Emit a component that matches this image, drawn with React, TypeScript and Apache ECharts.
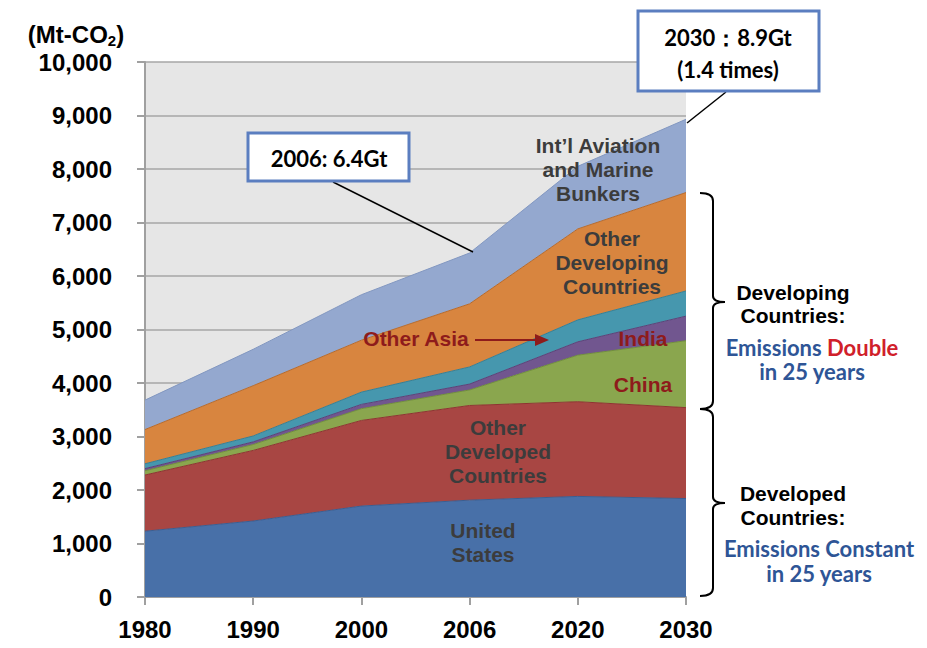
import React, { useEffect, useRef } from "react";
import * as echarts from "echarts";

const years = ["1980", "1990", "2000", "2006", "2020", "2030"];
const unitedStates = [1230, 1420, 1700, 1810, 1880, 1840];
const otherDeveloped = [1050, 1320, 1600, 1770, 1770, 1700];
const china = [80, 110, 220, 290, 870, 1250];
const india = [40, 50, 80, 110, 250, 460];
const otherAsia = [90, 110, 230, 320, 410, 470];
const otherDeveloping = [640, 940, 970, 1180, 1700, 1840];
const bunkers = [550, 680, 850, 950, 1170, 1370];

const seriesDefs = [
  { name: "United States", data: unitedStates, fill: "#4870A8", edge: "#3A5E92" },
  { name: "Other Developed Countries", data: otherDeveloped, fill: "#A84643", edge: "#8E3431" },
  { name: "China", data: china, fill: "#8AA64E", edge: "#71903A" },
  { name: "India", data: india, fill: "#71568F", edge: "#5B4278" },
  { name: "Other Asia", data: otherAsia, fill: "#4697AE", edge: "#357F95" },
  { name: "Other Developing Countries", data: otherDeveloping, fill: "#D8853F", edge: "#B86A2A" },
  { name: "Int'l Aviation and Marine Bunkers", data: bunkers, fill: "#94A8CF", edge: "#8297C0" },
];

const braceD =
  "M 700 193 Q 713 193 713 201 L 713 296 Q 713 302 725 302 Q 713 302 713 308 L 713 401 Q 713 409 700 409 " +
  "M 700 409 Q 713 409 713 417 L 713 497 Q 713 503 725 503 Q 713 503 713 509 L 713 588 Q 713 596 700 596";

let registered = false;

export default function App() {
  const ref = useRef<HTMLDivElement>(null);
  useEffect(() => {
    if (!ref.current) return;
    if (!registered) {
      echarts.graphic.registerShape("brace", echarts.graphic.extendPath(braceD, {}));
      registered = true;
    }
    const chart = echarts.init(ref.current, null, { renderer: "svg" });
    const boldSans = "'Liberation Sans', Arial, sans-serif";
    const calib = "Lato, 'Open Sans', sans-serif";
    const areaText = (x: number, y: number, text: string, color = "#3C3C3C") => ({
      type: "text",
      x,
      y,
      z: 100,
      style: {
        text,
        fill: color,
        font: `bold 21px ${boldSans}`,
        align: "center",
        verticalAlign: "middle",
        lineHeight: 24,
      },
    });
    const line = (x: number, y: number, text: string, font: string, fill: string) => ({
      type: "text",
      x,
      y,
      style: { text, font, fill, align: "center", verticalAlign: "middle" },
    });
    chart.setOption({
      animation: false,
      grid: {
        left: 145,
        right: 241,
        top: 62,
        bottom: 51,
        show: true,
        backgroundColor: "#E6E6E6",
        borderWidth: 0,
      },
      xAxis: {
        type: "category",
        data: years,
        boundaryGap: false,
        axisLine: { show: true, lineStyle: { color: "#A0A0A0", width: 2 } },
        axisTick: { show: true, length: 8, lineStyle: { color: "#A0A0A0", width: 2 } },
        axisLabel: { color: "#000", fontSize: 24, fontWeight: "bold", fontFamily: boldSans, margin: 20 },
        splitLine: { show: false },
      },
      yAxis: {
        type: "value",
        min: 0,
        max: 10000,
        interval: 1000,
        axisLine: { show: true, lineStyle: { color: "#A0A0A0", width: 2 } },
        axisTick: { show: true, length: 8, lineStyle: { color: "#A0A0A0", width: 2 } },
        axisLabel: {
          color: "#000",
          fontSize: 24,
          fontWeight: "bold",
          fontFamily: boldSans,
          margin: 33,
          formatter: (v: number) => v.toLocaleString("en-US"),
        },
        splitLine: { show: true, lineStyle: { color: "#A6A6A6", width: 1.5 } },
      },
      series: seriesDefs.map((s) => ({
        name: s.name,
        type: "line",
        stack: "total",
        data: s.data,
        symbol: "none",
        lineStyle: { color: s.edge, width: 1 },
        areaStyle: { color: s.fill, opacity: 1 },
        itemStyle: { color: s.fill },
      })),
      graphic: [
        {
          type: "text",
          x: 76,
          y: 34,
          style: {
            text: "{a|(Mt-CO}{s|2}{a|)}",
            align: "center",
            verticalAlign: "middle",
            rich: {
              a: { font: `bold 24px ${boldSans}`, fill: "#000" },
              s: { font: `bold 15px ${boldSans}`, fill: "#000", padding: [13, 0, 0, 0] },
            },
          },
        },
        areaText(483, 542, "United\nStates"),
        areaText(498, 451, "Other\nDeveloped\nCountries"),
        areaText(612, 262, "Other\nDeveloping\nCountries"),
        areaText(598, 169, "Int\u2019l Aviation\nand Marine\nBunkers"),
        areaText(643, 384, "China", "#8E1B1B"),
        areaText(643, 338, "India", "#8E1B1B"),
        areaText(416, 338, "Other Asia", "#8E1B1B"),
        {
          type: "line",
          z: 100,
          shape: { x1: 475, y1: 340, x2: 538, y2: 340 },
          style: { stroke: "#8E1B1B", lineWidth: 2 },
        },
        {
          type: "polygon",
          z: 100,
          shape: { points: [[535, 334], [549, 340], [535, 346]] },
          style: { fill: "#8E1B1B" },
        },
        // callout 2006
        {
          type: "line",
          z: 100,
          shape: { x1: 333, y1: 182, x2: 473, y2: 252 },
          style: { stroke: "#000", lineWidth: 1.5 },
        },
        {
          type: "rect",
          z: 101,
          shape: { x: 248, y: 133, width: 161, height: 48 },
          style: { fill: "#fff", stroke: "#5B7EC0", lineWidth: 3 },
        },
        {
          type: "text",
          z: 102,
          x: 329,
          y: 158,
          style: {
            text: "2006: 6.4Gt",
            font: `bold 22px ${calib}`,
            fill: "#000",
            align: "center",
            verticalAlign: "middle",
          },
        },
        // callout 2030
        {
          type: "line",
          z: 100,
          shape: { x1: 726, y1: 92, x2: 687, y2: 123 },
          style: { stroke: "#000", lineWidth: 1.5 },
        },
        {
          type: "rect",
          z: 101,
          shape: { x: 638, y: 11, width: 181, height: 80 },
          style: { fill: "#fff", stroke: "#5B7EC0", lineWidth: 3 },
        },
        {
          type: "text",
          z: 102,
          x: 728,
          y: 53,
          style: {
            text: "2030\uFF1A8.9Gt\n(1.4 times)",
            font: `bold 22px ${calib}`,
            fill: "#000",
            align: "center",
            verticalAlign: "middle",
            lineHeight: 32,
          },
        },
        // braces
        {
          type: "brace",
          x: 0,
          y: 0,
          style: { fill: "none", stroke: "#000", lineWidth: 2 },
        },
        {
          type: "text",
          x: 793,
          y: 304,
          style: {
            text: "Developing\nCountries:",
            font: `bold 21px ${boldSans}`,
            fill: "#000",
            align: "center",
            verticalAlign: "middle",
            lineHeight: 23,
          },
        },
        {
          type: "text",
          x: 812,
          y: 347,
          style: {
            text: "{b|Emissions }{r|Double}",
            align: "center",
            verticalAlign: "middle",
            rich: {
              b: { font: `bold 22px ${calib}`, fill: "#2E5596" },
              r: { font: `bold 22px ${calib}`, fill: "#D0202A" },
            },
          },
        },
        line(812, 371, "in 25 years", `bold 22px ${calib}`, "#2E5596"),
        {
          type: "text",
          x: 793,
          y: 505,
          style: {
            text: "Developed\nCountries:",
            font: `bold 21px ${boldSans}`,
            fill: "#000",
            align: "center",
            verticalAlign: "middle",
            lineHeight: 24,
          },
        },
        line(819, 548, "Emissions Constant", `bold 22px ${calib}`, "#2E5596"),
        line(819, 573, "in 25 years", `bold 22px ${calib}`, "#2E5596"),
      ],
    });
    return () => chart.dispose();
  }, []);
  return (
    <div
      ref={ref}
      style={{ position: "fixed", left: 0, top: 0, width: 927, height: 648, background: "#fff" }}
    />
  );
}
